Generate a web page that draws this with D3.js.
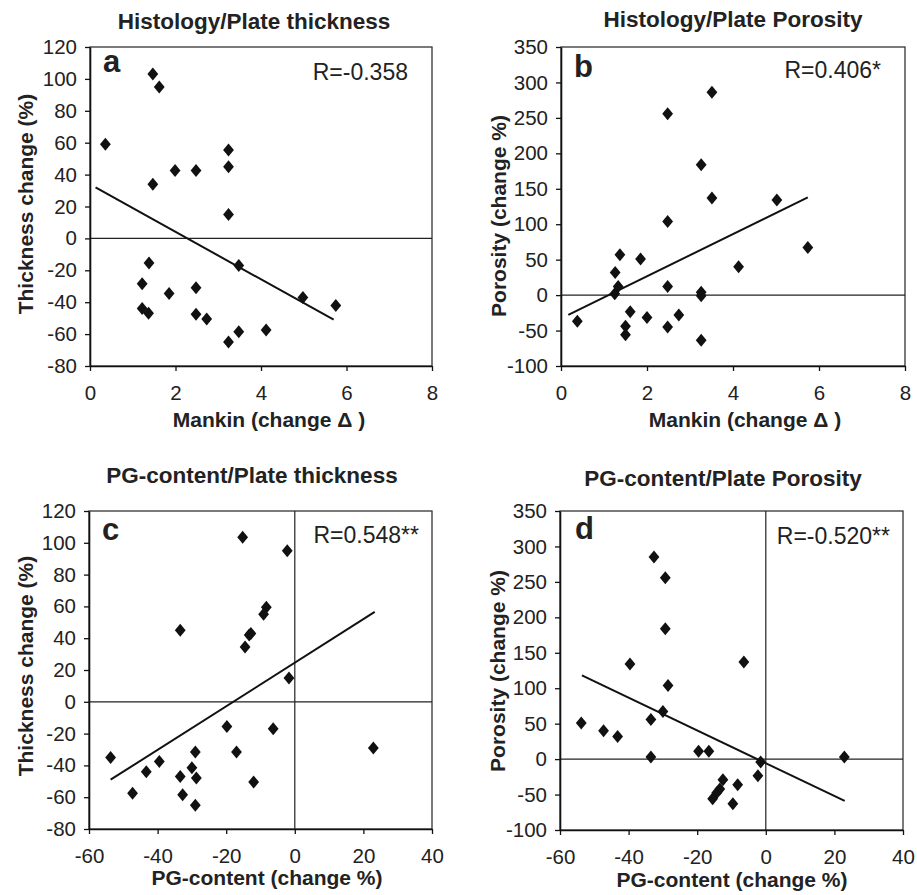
<!DOCTYPE html>
<html>
<head>
<meta charset="utf-8">
<script src="https://cdn.jsdelivr.net/npm/d3@7"></script>
<style>
  body { margin: 0; background: #fff; }
  text { font-family: "Liberation Sans", Arial, sans-serif; fill: #222; }
</style>
</head>
<body>
<svg id="chart" width="917" height="895"></svg>
<script>
// [x, y]
var histThickness = [
  [0.36, 59], [1.47, 103], [1.62, 95], [1.47, 34], [1.99, 42.5], [2.48, 42.5],
  [3.24, 55.5], [3.24, 45], [3.24, 15], [1.38, -15.5], [1.22, -28.5], [1.22, -44],
  [1.37, -47], [1.85, -34.5], [2.48, -31], [2.48, -47.5], [2.73, -50.5], [3.48, -17],
  [3.24, -65], [3.48, -58.5], [4.12, -57.5], [4.98, -37], [5.75, -42]
];
var histPorosity = [
  [0.38, -37], [1.26, 32], [1.25, 2], [1.33, 12], [1.37, 57], [1.5, -44], [1.5, -56],
  [1.61, -23.5], [1.85, 51], [2.0, -31.5], [2.48, 256], [2.48, 104], [2.48, 12],
  [2.48, -45], [2.74, -28], [3.26, 184], [3.26, 4], [3.26, -1], [3.26, -63.5],
  [3.51, 286], [3.51, 137], [4.13, 40], [5.02, 134], [5.74, 67]
];
var pgThickness = [
  [-15.2, 103.5], [-2.2, 95], [-8.3, 59.5], [-9.1, 55], [-12.8, 43], [-13.3, 42],
  [-14.5, 34.5], [-33.4, 45], [-1.7, 15], [-19.8, -15.5], [-6.3, -17], [-17, -31.5],
  [-29, -31.5], [22.9, -29], [-53.7, -35], [-39.5, -37.5], [-43.3, -44], [-33.4, -47],
  [-30, -41.5], [-28.7, -48], [-12, -50.5], [-47.3, -57.5], [-32.7, -58.5], [-29, -65]
];
var pgPorosity = [
  [-32.6, 285], [-29.3, 256], [-29.3, 184], [-6.4, 137], [-39.6, 134], [-28.5, 104],
  [-30, 67], [-33.5, 56], [-53.8, 51], [-47.3, 40], [-43.2, 32], [-33.5, 3],
  [-19.6, 11], [-16.6, 11], [-1.5, -4], [22.9, 3], [-2.3, -23.5], [-12.5, -29],
  [-13.4, -42], [-8.2, -36], [-14.3, -47.5], [-15.5, -56], [-9.6, -63]
];

// fitted lines, end points
var trendA = [[0.13, 32], [5.70, -51]];
var trendB = [[0.17, -28], [5.74, 138]];
var trendC = [[-53.7, -49], [23.3, 56.5]];
var trendD = [[-53.6, 118], [23, -59]];

var mankinTicks = [0, 2, 4, 6, 8];
var pgTicks = [-60, -40, -20, 0, 20, 40];
var thicknessTicks = [-80, -60, -40, -20, 0, 20, 40, 60, 80, 100, 120];
var porosityTicks = [-100, -50, 0, 50, 100, 150, 200, 250, 300, 350];

var panels = [
  { points: histThickness, trend: trendA, xTicks: mankinTicks, yTicks: thicknessTicks,
    title: 'Histology/Plate thickness', letter: 'a', r: 'R=-0.358',
    xLabel: 'Mankin (change \u0394 )', yLabel: 'Thickness change (%)', vline: false,
    box: { l: 90, r: 432, t: 47, b: 366 }, titleX: 254, titleY: 29, xLabelX: 269, xLabelY: 427,
    yLabelX: 33, yLabelY: 204, rX: 408, rY: 80, letterX: 103, letterY: 72 },
  { points: histPorosity, trend: trendB, xTicks: mankinTicks, yTicks: porosityTicks,
    title: 'Histology/Plate Porosity', letter: 'b', r: 'R=0.406*',
    xLabel: 'Mankin (change \u0394 )', yLabel: 'Porosity (change %)', vline: false,
    box: { l: 561, r: 905, t: 47, b: 366 }, titleX: 733, titleY: 27, xLabelX: 745, xLabelY: 427,
    yLabelX: 506, yLabelY: 216, rX: 881, rY: 78, letterX: 574, letterY: 77 },
  { points: pgThickness, trend: trendC, xTicks: pgTicks, yTicks: thicknessTicks,
    title: 'PG-content/Plate thickness', letter: 'c', r: 'R=0.548**',
    xLabel: 'PG-content (change %)', yLabel: 'Thickness change (%)', vline: true,
    box: { l: 89, r: 432, t: 511, b: 829 }, titleX: 252, titleY: 483, xLabelX: 267, xLabelY: 885,
    yLabelX: 33, yLabelY: 666, rX: 419, rY: 543, letterX: 102, letterY: 540 },
  { points: pgPorosity, trend: trendD, xTicks: pgTicks, yTicks: porosityTicks,
    title: 'PG-content/Plate Porosity', letter: 'd', r: 'R=-0.520**',
    xLabel: 'PG-content (change %)', yLabel: 'Porosity (change %)', vline: true,
    box: { l: 560, r: 903, t: 511, b: 830 }, titleX: 723, titleY: 486, xLabelX: 732, xLabelY: 887,
    yLabelX: 505, yLabelY: 671, rX: 890, rY: 544, letterX: 575, letterY: 539 }
];

var svg = d3.select('#chart');
var plain = function(d) { return String(d); };  // keep the hyphen-minus

panels.forEach(function(p) {
  var b = p.box;
  var x = d3.scaleLinear().domain(d3.extent(p.xTicks)).range([b.l, b.r]);
  var y = d3.scaleLinear().domain(d3.extent(p.yTicks)).range([b.b, b.t]);
  var g = svg.append('g');

  // frame
  g.append('rect')
    .attr('x', b.l).attr('y', b.t)
    .attr('width', b.r - b.l).attr('height', b.b - b.t)
    .attr('fill', 'none').attr('stroke', '#333').attr('stroke-width', 1.3);

  // zero lines
  g.append('line')
    .attr('x1', b.l).attr('x2', b.r)
    .attr('y1', y(0)).attr('y2', y(0))
    .attr('stroke', '#222').attr('stroke-width', 1.2);
  if (p.vline) {
    g.append('line')
      .attr('x1', x(0)).attr('x2', x(0))
      .attr('y1', b.t).attr('y2', b.b)
      .attr('stroke', '#222').attr('stroke-width', 1.2);
  }

  // axes
  var xAxis = g.append('g')
    .attr('transform', 'translate(0,' + b.b + ')')
    .call(d3.axisBottom(x).tickValues(p.xTicks).tickFormat(plain)
      .tickSize(5).tickPadding(14).tickSizeOuter(0));
  var yAxis = g.append('g')
    .attr('transform', 'translate(' + b.l + ',0)')
    .call(d3.axisLeft(y).tickValues(p.yTicks).tickFormat(plain)
      .tickSize(5).tickPadding(8).tickSizeOuter(0));
  [xAxis, yAxis].forEach(function(a) {
    a.attr('font-size', 20.5);
    a.select('.domain').attr('stroke', '#111').attr('stroke-width', 1.6);
    a.selectAll('.tick line').attr('stroke', '#111').attr('stroke-width', 1.3);
    a.selectAll('.tick text').attr('fill', '#222').style('font-size', '20.5px');
  });

  // trend line
  g.append('path')
    .datum(p.trend)
    .attr('d', d3.line().x(function(d) { return x(d[0]); }).y(function(d) { return y(d[1]); }))
    .attr('fill', 'none').attr('stroke', '#111').attr('stroke-width', 2);

  // diamonds
  g.selectAll('.pt')
    .data(p.points)
    .enter()
    .append('path')
    .attr('class', 'pt')
    .attr('transform', function(d) { return 'translate(' + x(d[0]) + ',' + y(d[1]) + ')'; })
    .attr('d', 'M0,-6.5L5.4,0L0,6.5L-5.4,0Z')
    .attr('fill', '#111');

  // texts
  g.append('text')
    .attr('x', p.titleX).attr('y', p.titleY)
    .attr('text-anchor', 'middle').attr('font-weight', 'bold').attr('font-size', 22.5)
    .text(p.title);
  g.append('text')
    .attr('x', p.xLabelX).attr('y', p.xLabelY)
    .attr('text-anchor', 'middle').attr('font-weight', 'bold').attr('font-size', 21)
    .text(p.xLabel);
  g.append('text')
    .attr('transform', 'translate(' + p.yLabelX + ',' + p.yLabelY + ') rotate(-90)')
    .attr('text-anchor', 'middle').attr('font-weight', 'bold').attr('font-size', 21)
    .text(p.yLabel);
  g.append('text')
    .attr('x', p.rX).attr('y', p.rY)
    .attr('text-anchor', 'end').attr('font-size', 23)
    .text(p.r);
  g.append('text')
    .attr('x', p.letterX).attr('y', p.letterY)
    .attr('font-weight', 'bold').attr('font-size', 31)
    .text(p.letter);
});
</script>
</body>
</html>
